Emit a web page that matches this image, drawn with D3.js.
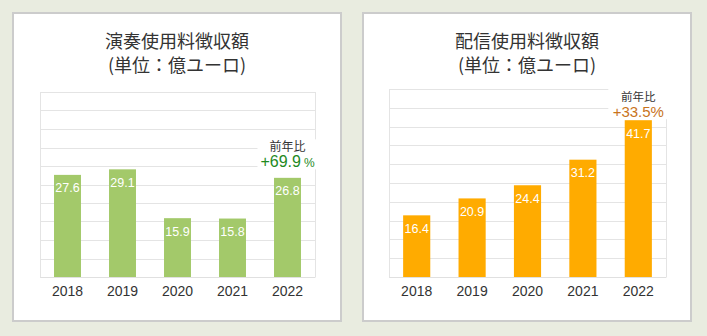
<!DOCTYPE html>
<html><head><meta charset="utf-8">
<script src="https://cdn.jsdelivr.net/npm/d3@7"></script>
<style>
html,body{margin:0;padding:0;background:#e9ece0;}
svg{display:block;}
</style></head>
<body>
<svg id="chart" width="707" height="336"></svg>
<script>
const years = ["2018","2019","2020","2021","2022"];
const performanceValues = [27.6, 29.1, 15.9, 15.8, 26.8];
const streamingValues = [16.4, 20.9, 24.4, 31.2, 41.7];
const titles1 = ["演奏使用料徴収額", "(単位：億ユーロ)"];
const titles2 = ["配信使用料徴収額", "(単位：億ユーロ)"];
const yoyLabel = "前年比";
const yoy1 = ["+69.9", "%"];
const yoy2 = ["+33.5", "%"];
const yTicks = [0,5,10,15,20,25,30,35,40,45,50];

const LATIN = "'Liberation Sans', Arial, 'Noto Sans CJK JP', sans-serif";
const CJK = "'Noto Sans CJK JP', 'Liberation Sans', sans-serif";

const svg = d3.select("#chart");
svg.append("rect").attr("width",707).attr("height",336).attr("fill","#e9ece0");

const panels = [
  {x:12, titles:titles1, values:performanceValues, color:"#a3c96a", yoy:yoy1, yoyColor:"#1f8a1f",
   left:40, right:315, top:92, bottom:277, pctSize:16, pctUnitSize:12, pctDy:10.5, lblGap:16, lblSize:12},
  {x:362, titles:titles2, values:streamingValues, color:"#ffab00", yoy:yoy2, yoyColor:"#c8731c",
   left:389, right:666, top:89, bottom:277, pctSize:15, pctUnitSize:15, pctDy:3, lblGap:16.5, lblSize:11.5}
];

panels.forEach(p => {
  const g = svg.append("g");
  g.append("rect").attr("x",p.x+1).attr("y",13).attr("width",328).attr("height",308)
    .attr("fill","#fff").attr("stroke","#cccccc").attr("stroke-width",2);
  const cx = p.x + 165;
  p.titles.forEach((t,i) => {
    g.append("text").attr("x",cx).attr("y",47.5 + i*24).attr("text-anchor","middle")
      .attr("font-family",CJK).attr("font-size",18).attr("fill","#333").text(t);
  });

  const x = d3.scaleBand().domain(years).range([p.left,p.right]).paddingInner(0.51).paddingOuter(0.255);
  const y = d3.scaleLinear().domain([0,50]).range([p.bottom,p.top]);

  // grid
  g.append("g").selectAll("line").data(yTicks).join("line")
    .attr("x1",p.left).attr("x2",p.right)
    .attr("y1",d=>Math.round(y(d))+0.5).attr("y2",d=>Math.round(y(d))+0.5)
    .attr("stroke","#e4e4e4").attr("stroke-width",1);
  g.append("line").attr("x1",p.left+0.5).attr("x2",p.left+0.5).attr("y1",p.top).attr("y2",p.bottom)
    .attr("stroke","#e4e4e4");
  g.append("line").attr("x1",p.right+0.5).attr("x2",p.right+0.5).attr("y1",p.top).attr("y2",p.bottom)
    .attr("stroke","#e4e4e4");

  // bars
  g.append("g").selectAll("rect").data(p.values).join("rect")
    .attr("x",(d,i)=>x(years[i])).attr("width",x.bandwidth())
    .attr("y",d=>y(d)).attr("height",d=>p.bottom - y(d))
    .attr("fill",p.color);

  g.append("g").selectAll("text").data(p.values).join("text")
    .attr("x",(d,i)=>x(years[i])+x.bandwidth()/2).attr("y",d=>y(d)+17.5)
    .attr("text-anchor","middle").attr("font-family",LATIN).attr("font-size",12.5)
    .attr("fill","#fff").text(d=>d.toFixed(1));

  // x axis
  const ax = g.append("g").attr("transform",`translate(0,${p.bottom})`)
    .call(d3.axisBottom(x).tickSize(0).tickPadding(0));
  ax.select(".domain").attr("stroke","#e0e0e0");
  ax.selectAll("text").attr("y",19).attr("dy",0).attr("font-family",LATIN)
    .attr("font-size",14).attr("fill","#333");

  // YoY annotation
  const last = years.length-1;
  const ax0 = x(years[last]) + x.bandwidth()/2;
  const topY = y(p.values[last]);
  const pctY = topY - p.pctDy;
  const lblY = pctY - p.lblGap;
  g.append("rect").attr("x",ax0-30).attr("y",lblY-12).attr("width",60).attr("height",pctY-lblY+14)
    .attr("fill","#fff");
  g.append("text").attr("x",ax0).attr("y",lblY).attr("text-anchor","middle")
    .attr("font-family",CJK).attr("font-size",p.lblSize).attr("fill","#333").text(yoyLabel);
  const t = g.append("text").attr("x",ax0).attr("y",pctY).attr("text-anchor","middle")
    .attr("font-family",LATIN).attr("fill",p.yoyColor);
  t.append("tspan").attr("font-size",p.pctSize).text(p.yoy[0]);
  t.append("tspan").attr("font-size",p.pctUnitSize).attr("dx",p.pctUnitSize<p.pctSize?3:0).text(p.yoy[1]);
});
</script>
</body></html>
